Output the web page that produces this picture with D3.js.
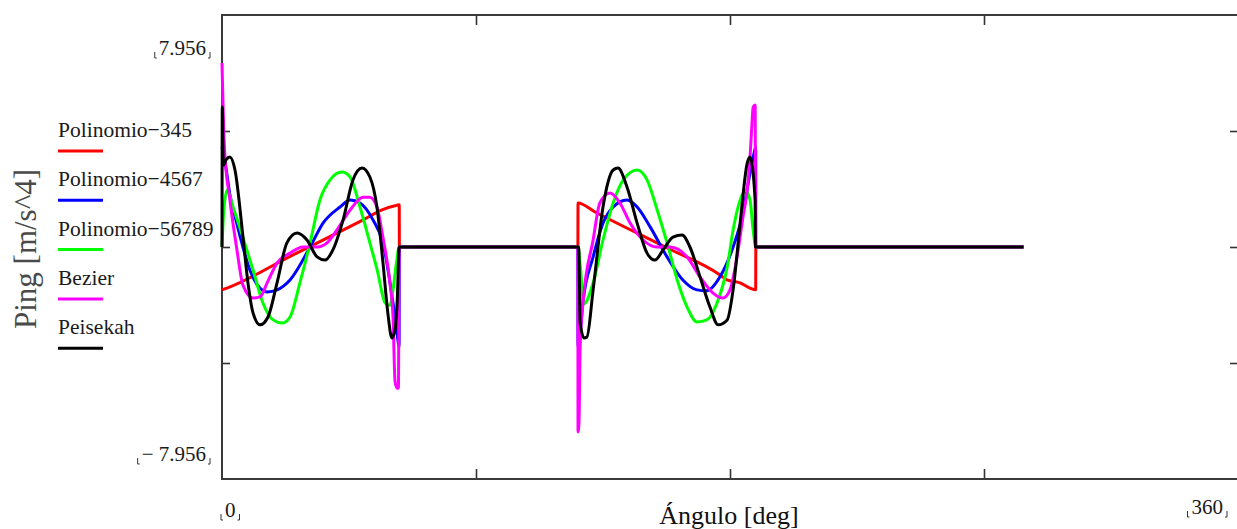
<!DOCTYPE html>
<html>
<head>
<meta charset="utf-8">
<script src="https://cdn.jsdelivr.net/npm/d3@7/dist/d3.min.js"></script>
<style>
  body { margin: 0; background: #ffffff; }
  svg { display: block; font-family: "Liberation Serif", "Times New Roman", serif; }
</style>
</head>
<body>
<svg id="chart" width="1237" height="529"></svg>
<script>
// ---- data: [angle in deg, jerk value] ----
let polinomio345 = [
    [0, -1.47], [2, -1.40], [25, -0.28], [50, 0.93], [56.7, 1.27], [62.3, 1.44], [62.8, 1.45], [62.85, 0],
    [126.1, 0], [126.15, 1.51], [132.2, 1.2], [157, 0], [176.5, -0.96], [178.9, -1.13], [183.6, -1.23],
    [187.1, -1.41], [189.1, -1.47], [189.15, 0], [284, 0]
];
let polinomio4567 = [
    [0, 3.43], [1.1, 2.9], [2.8, 1.8], [5, 0.9], [7.4, 0], [9.9, -0.8], [12.5, -1.3], [16, -1.54], [19.5, -1.47],
    [24.1, -1.13], [31.2, 0], [35.8, 0.82], [41.8, 1.37], [45.4, 1.61], [48.9, 1.51], [53.5, 0.93], [57, 0.14],
    [60.6, -1.92], [62.1, -3.0], [62.75, -3.43], [62.8, 0],
    [126.1, 0], [126.15, -3.43], [126.8, -3.0], [127.9, -1.9], [131.5, -0.34], [135, 0.82], [138.6, 1.37],
    [143.5, 1.61], [147.1, 1.37], [151.7, 0.69], [157.7, -0.34], [163.3, -1.13], [168.3, -1.47], [171.8, -1.5],
    [176.4, -1.03], [181.1, 0], [184.6, 1.17], [187.1, 2.54], [188.5, 3.2], [189.1, 3.43], [189.15, 0], [284, 0]
];
let polinomio56789 = [
    [0, 0], [0.6, 1.2], [1.8, 1.95], [3.9, 1.37], [7.4, 0.34], [11, -0.79], [14.5, -1.92], [18.1, -2.5],
    [21.3, -2.61], [24.1, -2.40], [27.6, -1.23], [31.2, 0.14], [34.7, 1.61], [38.3, 2.3], [42.5, 2.57],
    [45.4, 2.40], [48.9, 1.37], [52.4, 0.14], [55, -0.79], [57.8, -1.92], [59.5, -2.0], [60.6, -1.47],
    [61.8, -0.55], [62.8, 0],
    [126.1, 0], [126.9, -0.6], [128.2, -1.95], [131.5, -1.23], [135, 0.24], [138.6, 1.51], [142.2, 2.3],
    [147.1, 2.64], [150.6, 2.3], [154.2, 1.27], [157.7, 0.14], [161.3, -1.13], [164.8, -2.06], [168.3, -2.57],
    [171.8, -2.5], [175.4, -1.92], [179, -0.69], [181.1, 0.58], [183.6, 1.61], [185.4, 1.95], [187.1, 1.61],
    [188.2, 0.58], [189.2, 0], [284, 0]
];
let bezier = [
    [0, 6.31], [0.9, 3.34], [2.8, 1.61], [5.3, -0.10], [7.4, -1.3], [11, -1.75], [13.5, -1.71], [16, -1.23],
    [19.5, -0.55], [24.1, -0.21], [28.7, 0], [33.7, 0], [37.2, 0.14], [40.7, 0.58], [45.4, 1.27], [50, 1.71],
    [52.4, 1.71], [54.9, 1.37], [57, 0.34], [59.5, -1.23], [60.6, -2.40], [61.3, -4.6], [62.0, -4.84],
    [62.5, -4.84], [62.8, 0],
    [126.1, 0], [126.15, -6.34], [126.5, -6.0], [126.9, -3.43], [127.9, -1.92], [131.5, 0.24], [133.9, 1.51],
    [137.5, 1.85], [141, 1.51], [144.6, 0.82], [149.2, 0.24], [154.1, 0], [158.8, 0], [164.8, -0.34],
    [169.4, -1.03], [174, -1.58], [177.5, -1.75], [180, -1.47], [182.5, -0.34], [184.6, 1.03], [186.1, 1.95],
    [187.1, 3.09], [187.8, 4.25], [188.2, 4.8], [188.9, 4.87], [189.1, 0], [284, 0]
];
let peisekah = [
    [0, 0], [0.1, 4.8], [0.5, 2.8], [1.5, 3.0], [2.8, 3.09], [4.6, 2.64], [7.44, 0.34], [9.2, -1.23],
    [11, -2.26], [13.5, -2.67], [16.3, -2.4], [19.5, -1.23], [23, 0.14], [26.6, 0.48], [30.1, 0.24],
    [33.7, -0.34], [36.5, -0.45], [39.3, -0.1], [42.9, 0.93], [46.4, 2.3], [49.6, 2.71], [52.4, 2.4],
    [54.9, 1.37], [57.05, -0.55], [58.8, -2.3], [60.2, -3.12], [61.3, -2.85], [62.1, -1.82], [62.8, 0],
    [126.4, 0], [126.9, -2.6], [128.3, -3.12], [129.3, -3.09], [131.5, -1.47], [135, 1.37], [138.6, 2.64],
    [140.3, 2.71], [143.5, 2.06], [147.1, 0.82], [150.6, -0.21], [153.4, -0.45], [156.3, -0.1], [159.8, 0.34],
    [163, 0.41], [165.8, 0], [169.4, -1.03], [172.9, -2.06], [175.8, -2.67], [179, -2.5], [181.1, -1.47],
    [183.6, 0.82], [186.1, 2.88], [187.1, 3.09], [188.9, 1.61], [189.0, 0], [284, 0]
];

let seriesNames = ["Polinomio\u2212345", "Polinomio\u22124567", "Polinomio\u221256789", "Bezier", "Peisekah"];
let seriesData = [polinomio345, polinomio4567, polinomio56789, bezier, peisekah];
let seriesColors = ["#ff0000", "#0000ff", "#00ff00", "#ff00ff", "#000000"];

let xLimits = [0, 360];
let yLimits = [-7.956, 7.956];
let xTicks = [90, 180, 270];
let yTicks = [-3.978, 0, 3.978];

// ---- chart ----
let chart = d3.select("#chart");

let x = d3.scaleLinear()
    .domain(xLimits)
    .range([222, 1238]);

let y = d3.scaleLinear()
    .domain(yLimits)
    .range([479, 15]);

// inward ticks on all four sides
chart.append("g")
    .attr("class", "axis")
    .attr("transform", "translate(" + x(0) + ",0)")
    .call(d3.axisRight(y).tickValues(yTicks).tickSize(8).tickFormat(""));
chart.append("g")
    .attr("class", "axis")
    .attr("transform", "translate(" + x(360) + ",0)")
    .call(d3.axisLeft(y).tickValues(yTicks).tickSize(8).tickFormat(""));
chart.append("g")
    .attr("class", "axis")
    .attr("transform", "translate(0," + y(yLimits[1]) + ")")
    .call(d3.axisBottom(x).tickValues(xTicks).tickSize(10).tickFormat(""));
chart.append("g")
    .attr("class", "axis")
    .attr("transform", "translate(0," + y(yLimits[0]) + ")")
    .call(d3.axisTop(x).tickValues(xTicks).tickSize(10).tickFormat(""));

chart.selectAll(".axis .domain").remove();
chart.selectAll(".axis line")
    .attr("stroke", "#333")
    .attr("stroke-width", 1.6);

// plot border
chart.append("rect")
    .attr("x", x(0))
    .attr("y", y(yLimits[1]))
    .attr("width", x(360) - x(0))
    .attr("height", y(yLimits[0]) - y(yLimits[1]))
    .attr("fill", "none")
    .attr("stroke", "#3a3a3a")
    .attr("stroke-width", 2);

// curves
let line = d3.line()
    .x(function(d) { return x(d[0]); })
    .y(function(d) { return y(d[1]); })
    .curve(d3.curveMonotoneX);

chart.selectAll(".curve")
    .data(seriesData)
    .enter()
    .append("path")
    .attr("class", "curve")
    .attr("fill", "none")
    .attr("stroke", function(d, i) { return seriesColors[i]; })
    .attr("stroke-width", 3)
    .attr("stroke-linejoin", "round")
    .attr("d", line);

// limit labels with the little corner marks
function limitLabel(txt, px, py, anchor) {
    let t = chart.append("text")
        .text(txt)
        .attr("x", px)
        .attr("y", py)
        .style("font-size", "21px")
        .style("text-anchor", anchor)
        .style("fill", "#1a1a1a");
    let b = t.node().getBBox();
    let lx = b.x - 4, rx = b.x + b.width + 4;
    chart.append("path")
        .attr("d", "M" + lx + "," + (py - 3) + "V" + (py + 3) + "H" + (lx + 2))
        .attr("fill", "none").attr("stroke", "#333").attr("stroke-width", 1);
    chart.append("path")
        .attr("d", "M" + rx + "," + (py - 3) + "V" + (py + 3) + "H" + (rx - 2))
        .attr("fill", "none").attr("stroke", "#333").attr("stroke-width", 1);
}

limitLabel(d3.format(".3f")(yLimits[1]), x(0) - 16, y(yLimits[1]) + 40, "end");
limitLabel("\u2212 " + d3.format(".3f")(-yLimits[0]), x(0) - 16, y(yLimits[0]) - 18, "end");
limitLabel(String(xLimits[0]), x(0) + 3, 517, "start");
limitLabel(String(xLimits[1]), x(360) - 15, 514, "end");

// axis titles
chart.append("text")
    .text("\u00c1ngulo [deg]")
    .attr("x", 729)
    .attr("y", 524)
    .style("font-size", "26px")
    .style("text-anchor", "middle")
    .style("fill", "#111");

chart.append("text")
    .text("Ping [m/s^4]")
    .attr("transform", "rotate(-90)")
    .attr("x", -249)
    .attr("y", 36)
    .style("font-size", "31px")
    .style("text-anchor", "middle")
    .style("fill", "#4a4a4a");

// legend
chart.selectAll(".leglabel")
    .data(seriesNames)
    .enter()
    .append("text")
    .attr("class", "leglabel")
    .attr("x", 58)
    .attr("y", function(d, i) { return 137 + i * 49.3; })
    .text(function(d) { return d; })
    .style("font-size", "21.5px")
    .style("fill", "#1a1a1a");

chart.selectAll(".legline")
    .data(seriesNames)
    .enter()
    .append("line")
    .attr("class", "legline")
    .attr("x1", 58)
    .attr("x2", 103)
    .attr("y1", function(d, i) { return 151 + i * 49.3; })
    .attr("y2", function(d, i) { return 151 + i * 49.3; })
    .attr("stroke", function(d, i) { return seriesColors[i]; })
    .attr("stroke-width", 3);
</script>
</body>
</html>
